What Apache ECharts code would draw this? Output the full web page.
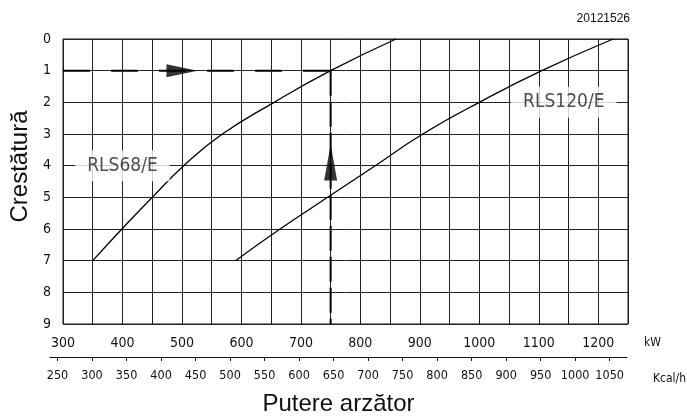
<!DOCTYPE html>
<html><head><meta charset="utf-8">
<script src="https://cdn.jsdelivr.net/npm/echarts@6/dist/echarts.min.js"></script>
<style>html,body{margin:0;padding:0;background:#fff}#c{width:687px;height:419px}</style>
</head><body><div id="c"></div>
<script>
// ---- data ----
const notches   = [7, 6, 5, 4, 3, 2, 1, 0];
const rls68Kw   = [350, 399, 450, 503, 568, 655, 750, 860];
const rls120Kw  = [590, 665, 745, 825, 905, 1000, 1105, 1225];
const kwLabels  = [300, 400, 500, 600, 700, 800, 900, 1000, 1100, 1200];
const kcalTicks = [250, 300, 350, 400, 450, 500, 550, 600, 650, 700, 750, 800, 850, 900, 950, 1000, 1050];
const yTicks    = [0, 1, 2, 3, 4, 5, 6, 7, 8, 9];
const opKw = 750, opNotch = 1;
const arrowRightPt = [500, 1];
const arrowUpPt    = [750, 3.9];
const curveNames = ['RLS68/E', 'RLS120/E'];
const curveLabelPts = [[400, 4], [1142, 2]];
const kwMin = 300, kwMax = 1250, kcalPerKw = 0.86, kcalAxisStartKw = 278;

const techFont = "'Liberation Sans Narrow', 'DejaVu Sans Condensed', sans-serif";
const textFont = "'Liberation Sans', Arial, sans-serif";
const chart = echarts.init(document.getElementById('c'), null, {renderer: 'canvas'});

const zip = (xs, ys) => xs.map((x, i) => [x, ys[i]]);

chart.setOption({
  animation: false,
  backgroundColor: '#fff',
  title: [{
    text: '20121526', right: 52, top: 8,
    textStyle: {fontFamily: textFont, fontSize: 12, fontWeight: 'normal', color: '#111'}
  }],
  grid: [
    {left: 63, right: 59, top: 39, bottom: 95, show: true, borderColor: '#111', borderWidth: 1},
    {left: 50, right: 60, top: 300, bottom: 62, show: false}
  ],
  xAxis: [{
    type: 'value', gridIndex: 0, min: kwMin, max: kwMax, interval: 50, position: 'bottom',
    name: 'kW', nameLocation: 'end', nameGap: 16,
    nameTextStyle: {fontFamily: techFont, fontSize: 12, color: '#111', verticalAlign: 'top', padding: [13, 0, 0, 0]},
    axisLine: {show: false, onZero: false}, axisTick: {show: false},
    axisLabel: {
      margin: 12, fontFamily: techFont, fontSize: 14, color: '#111',
      formatter: v => kwLabels.includes(v) ? String(v) : ''
    },
    splitLine: {show: true, lineStyle: {color: '#222', width: 1}}
  }, {
    type: 'value', gridIndex: 1, min: kcalAxisStartKw * kcalPerKw, max: kwMax * kcalPerKw, position: 'bottom',
    name: 'Kcal/h', nameLocation: 'end', nameGap: 26,
    nameTextStyle: {fontFamily: techFont, fontSize: 12, color: '#111', verticalAlign: 'top', padding: [16, 0, 0, 0]},
    axisLine: {show: true, onZero: false, lineStyle: {color: '#111', width: 1.2}},
    axisTick: {show: true, length: 4, lineStyle: {color: '#111'}, customValues: kcalTicks},
    axisLabel: {margin: 12, fontFamily: techFont, fontSize: 12.5, color: '#111', customValues: kcalTicks,
      formatter: v => String(v)},
    splitLine: {show: false}
  }, {
    type: 'value', gridIndex: 1, min: kcalAxisStartKw * kcalPerKw, max: kwMax * kcalPerKw, position: 'bottom',
    name: 'Putere arzător', nameLocation: 'middle', nameGap: 35,
    nameTextStyle: {fontFamily: textFont, fontSize: 24, color: '#111'},
    axisLine: {show: false, onZero: false}, axisTick: {show: false}, axisLabel: {show: false}, splitLine: {show: false}
  }],
  yAxis: [{
    type: 'value', gridIndex: 0, min: 0, max: 9, interval: 1, inverse: true,
    name: 'Crestătură', nameLocation: 'middle', nameGap: 29,
    nameTextStyle: {fontFamily: textFont, fontSize: 24, color: '#111', padding: [0, 0, 0, 30]},
    axisLine: {show: false, onZero: false}, axisTick: {show: false},
    axisLabel: {margin: 12, fontFamily: techFont, fontSize: 14, color: '#111',
      formatter: v => yTicks.includes(v) ? String(v) : ''},
    splitLine: {show: true, lineStyle: {color: '#222', width: 1}}
  }, {
    type: 'value', gridIndex: 1, show: false, min: 0, max: 1
  }],
  series: [
    {
      name: curveNames[0], type: 'line', xAxisIndex: 0, yAxisIndex: 0,
      data: zip(rls68Kw, notches), smooth: 0.5, showSymbol: false,
      lineStyle: {color: '#000', width: 1.3}, z: 3
    },
    {
      name: curveNames[1], type: 'line', xAxisIndex: 0, yAxisIndex: 0,
      data: zip(rls120Kw, notches), smooth: 0.5, showSymbol: false,
      lineStyle: {color: '#000', width: 1.3}, z: 3
    },
    {
      name: 'guide-h', type: 'line', xAxisIndex: 0, yAxisIndex: 0,
      data: [[kwMin, opNotch], [opKw, opNotch]], showSymbol: false,
      lineStyle: {color: '#000', width: 2, type: [27, 21]}, z: 4
    },
    {
      name: 'guide-v', type: 'line', xAxisIndex: 0, yAxisIndex: 0,
      data: [[opKw, opNotch], [opKw, 9]], showSymbol: false,
      lineStyle: {color: '#000', width: 2, type: [25, 6]}, z: 4
    },
    {
      name: 'arrow-right', type: 'scatter', xAxisIndex: 0, yAxisIndex: 0,
      data: [arrowRightPt], symbol: 'triangle', symbolSize: [13, 31], symbolRotate: -90,
      itemStyle: {color: '#000'}, z: 5
    },
    {
      name: 'arrow-up', type: 'scatter', xAxisIndex: 0, yAxisIndex: 0,
      data: [arrowUpPt], symbol: 'triangle', symbolSize: [13, 36],
      itemStyle: {color: '#000'}, z: 5
    },
    {
      name: 'curve-labels', type: 'scatter', xAxisIndex: 0, yAxisIndex: 0,
      data: curveLabelPts.map((p, i) => ({value: p, name: curveNames[i]})),
      symbolSize: 1, itemStyle: {color: 'rgba(0,0,0,0)'}, z: 6,
      label: {
        show: true, position: 'inside', formatter: p => p.name,
        fontFamily: techFont, fontSize: 19, color: '#222',
        backgroundColor: '#fff', padding: [6, 12, 6, 12]
      }
    }
  ]
});
</script>
</body></html>
